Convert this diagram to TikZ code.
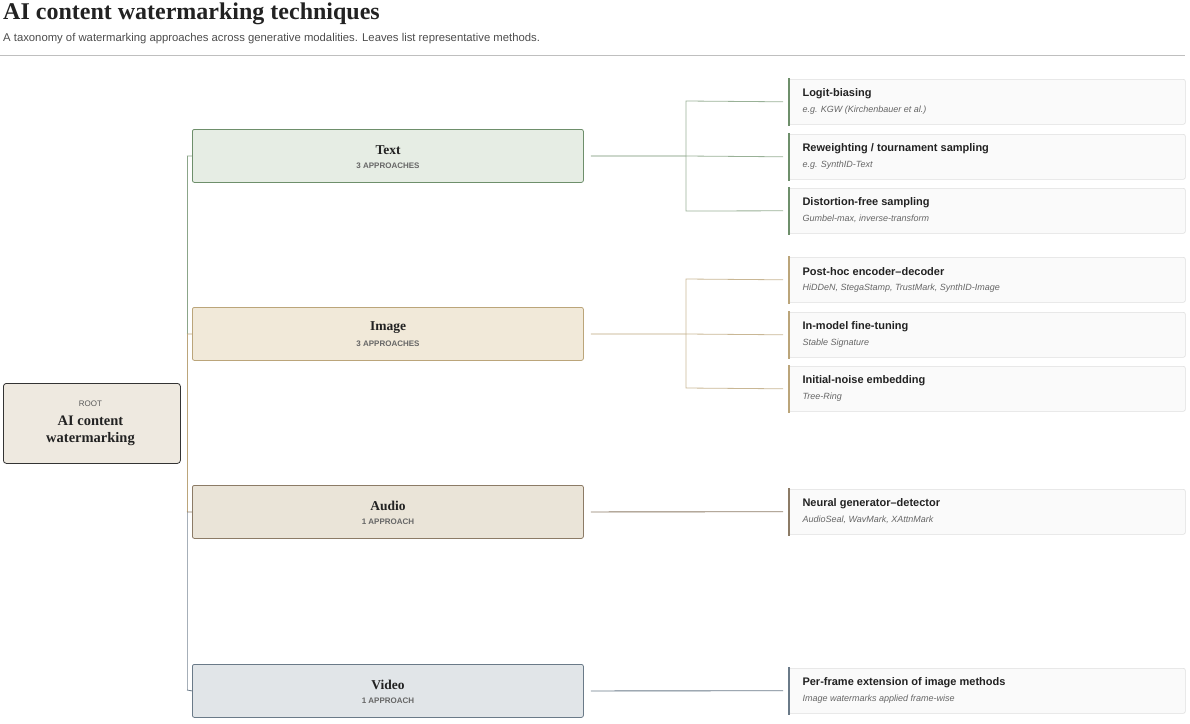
\documentclass[tikz,border=0pt]{standalone}
\usepackage{fontspec}
\setmainfont{Liberation Serif}
\setsansfont{Liberation Sans}
\begin{document}
\definecolor{gT}{HTML}{6E8F6B}\definecolor{fgT}{HTML}{E6EDE4}
\definecolor{gI}{HTML}{BBA57A}\definecolor{fgI}{HTML}{F1E9D9}
\definecolor{gA}{HTML}{8C7B66}\definecolor{fgA}{HTML}{EAE4D8}
\definecolor{gV}{HTML}{6A7A88}\definecolor{fgV}{HTML}{E1E5E8}
\definecolor{ink}{HTML}{222222}\definecolor{sub}{HTML}{666666}
\begin{tikzpicture}[x=1pt,y=-1pt,
  cat/.style={draw=#1,fill=f#1,rounded corners=2pt,minimum width=391pt,minimum height=53pt,anchor=north west,align=center,inner sep=0pt,line width=0.8pt},
  leaf/.style={draw=black!13,fill=black!2!white,rounded corners=2pt,minimum width=397pt,minimum height=45pt,anchor=north west,inner sep=0pt,line width=0.6pt},
  ct/.style={font=\fontsize{13.5}{16}\selectfont\bfseries,text=ink},
  cs/.style={font=\sffamily\fontsize{8}{10}\selectfont\bfseries,text=sub},
  lt/.style={font=\sffamily\fontsize{11}{13}\selectfont\bfseries,text=ink,anchor=west},
  ls/.style={font=\sffamily\fontsize{9}{11}\selectfont\itshape,text=sub,anchor=west},
  con/.style={draw=#1,line width=0.8pt}]
\useasboundingbox (0,0) rectangle (1190,723);
\node[anchor=base west,font=\fontsize{24}{28}\selectfont\bfseries,text=ink,inner sep=0pt] (title) at (3,19) {AI content watermarking techniques};
\node[anchor=base west,font=\sffamily\fontsize{11.3}{13}\selectfont,text=black!70,inner sep=0pt] (subt) at (3,41) {A taxonomy of watermarking approaches across generative modalities. Leaves list representative methods.};
\draw[black!25,line width=0.8pt] (0,55) -- (1185,55);
% root
\node[draw=black!80,fill=fgA!80!white,rounded corners=3pt,minimum width=177pt,minimum height=80pt,anchor=north west,line width=0.8pt] (root) at (3,383) {};
\node[font=\sffamily\fontsize{8}{10}\selectfont,text=black!65] (rl) at (90.5,404) {ROOT};
\node[font=\fontsize{14.5}{17}\selectfont\bfseries,text=ink,align=center] (rt) at (90.5,431) {AI content\\watermarking};
% categories
\foreach \n/\y/\c/\t/\s in {Text/129/gT/Text/3 APPROACHES,Image/307/gI/Image/3 APPROACHES,Audio/485/gA/Audio/1 APPROACH,Video/664/gV/Video/1 APPROACH}{
  \node[cat=\c] (\n) at (192,\y) {};
  \node[ct] at (388,\y+21) {\t};
  \node[cs] at (388,\y+37) {\s};
}
% spine
\coordinate (sT) at (187,156);\coordinate (sI) at (187,334);
\coordinate (sA) at (187,512);\coordinate (sV) at (187,690);
\draw[con=gT!80] (sT) -- (sI);
\draw[con=gI] (sI) -- (sA);
\draw[con=gV!60] (sA) -- (sV);
\draw[con=gT!80] (sT) -- (Text.west);
\draw[con=gI] (sI) -- (Image.west);
\draw[con=gA] (sA) -- (Audio.west);
\draw[con=gV] (sV) -- (Video.west);
% leaves
\foreach \n/\y/\c/\t/\s in {
 L1/79/gT/{Logit-biasing}/{e.g. KGW (Kirchenbauer et al.)},
 L2/134/gT/{Reweighting / tournament sampling}/{e.g. SynthID-Text},
 L3/188/gT/{Distortion-free sampling}/{Gumbel-max, inverse-transform},
 L4/257/gI/{Post-hoc encoder–decoder}/{HiDDeN, StegaStamp, TrustMark, SynthID-Image},
 L5/312/gI/{In-model fine-tuning}/{Stable Signature},
 L6/366/gI/{Initial-noise embedding}/{Tree-Ring},
 L7/489/gA/{Neural generator–detector}/{AudioSeal, WavMark, XAttnMark},
 L8/668/gV/{Per-frame extension of image methods}/{Image watermarks applied frame-wise}}{
  \node[leaf] (\n) at (788,\y) {};
  \draw[\c,line width=2pt] ([xshift=0.5pt,yshift=1pt]\n.north west) -- ([xshift=0.5pt,yshift=-1pt]\n.south west);
  \node[lt] at (799,\y+15) {\t};
  \node[ls] at (799,\y+31) {\s};
}
% branches
\coordinate (bT) at (686,156);\coordinate (bI) at (686,334);
\draw[con=gT] ([xshift=7pt]Text.east) -- (bT);
\draw[con=gT!70] (bT) -- (686,101) -- ([xshift=-5pt]L1.west);
\draw[con=gT!70] (bT) -- ([xshift=-5pt]L2.west);
\draw[con=gT!70] (bT) -- (686,211) -- ([xshift=-5pt]L3.west);
\draw[con=gI] ([xshift=7pt]Image.east) -- (bI);
\draw[con=gI!80] (bI) -- (686,279) -- ([xshift=-5pt]L4.west);
\draw[con=gI!80] (bI) -- ([xshift=-5pt]L5.west);
\draw[con=gI!80] (bI) -- (686,388) -- ([xshift=-5pt]L6.west);
\draw[con=gA] ([xshift=7pt]Audio.east) -- ([xshift=-5pt]L7.west);
\draw[con=gV] ([xshift=7pt]Video.east) -- ([xshift=-5pt]L8.west);
\end{tikzpicture}
\end{document}
